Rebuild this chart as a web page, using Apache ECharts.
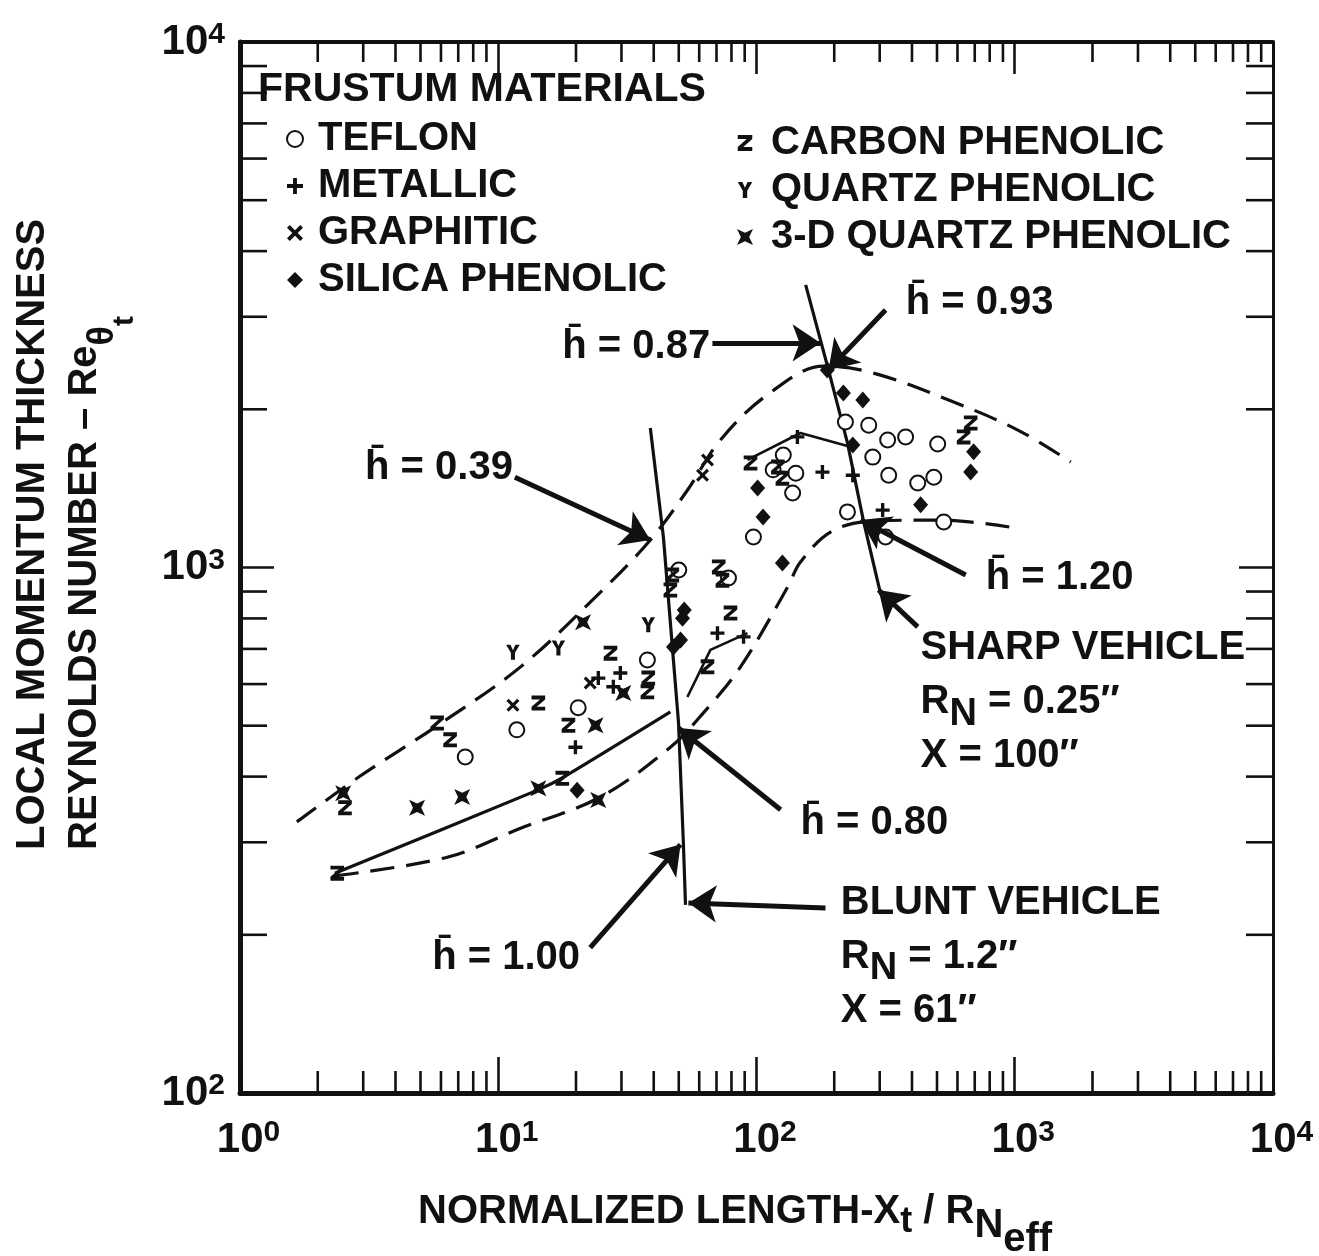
<!DOCTYPE html>
<html>
<head>
<meta charset="utf-8">
<script src="https://cdn.jsdelivr.net/npm/echarts@6/dist/echarts.min.js"></script>
<style>
html,body{margin:0;padding:0;background:#fff;}
#chart{width:1319px;height:1256px;}
</style>
</head>
<body>
<div id="chart"></div>
<script>
// ---------- data ----------
const xMinorTicks = [2,3,4,5,6,7,8,9,20,30,40,50,60,70,80,90,200,300,400,500,600,700,800,900,2000,3000,4000,5000,6000,7000,8000,9000];
const yMinorTicks = [200,300,400,500,600,700,800,900,2000,3000,4000,5000,6000,7000,8000,9000];

const teflon = [[37.8,667],[50,989],[77.9,955],[116,1534],[127,1637],[142,1512],[138,1386],[97.3,1143],[221,1892],[272,1866],[322,1749],[378,1772],[503,1718],[282,1622],[325,1498],[421,1448],[486,1485],[225,1276],[531,1221],[316,1143],[11.8,491],[7.45,436],[20.4,541]];
const metallic = [[24.4,616],[29.7,630],[27.9,593],[19.9,455],[70.6,750],[89.1,738],[180,1519],[236,1498],[308,1286],[144,1772]];
const graphitic = [[22.7,603],[11.4,547],[64.6,1602],[61.8,1498]];
const silicaPhenolic = [[20.2,377],[52.5,830],[51.7,801],[50.8,728],[47.7,706],[101,1417],[106,1248],[126,1020],[217,2148],[258,2084],[236,1710],[188,2377],[432,1316],[675,1519],[693,1660]];
const carbonPhenolic = [[2.55,349],[5.80,506],[6.51,470],[14.3,552],[18.7,501],[17.7,397],[27.2,687],[38.1,616],[37.8,580],[47.2,968],[46.4,906],[71.4,1002],[73.8,946],[79.3,819],[64.6,647],[94.8,1581],[121,1553],[126,1479],[634,1772],[675,1884],[2.38,262]];
const quartzPhenolic = [[11.4,690],[17.1,703],[38.1,778]];
const quartz3D = [[21.3,787],[30.5,577],[23.8,501],[4.85,349],[7.25,366],[14.3,380],[24.4,361],[2.51,372]];

const upperEnvelope = [[1.66,328],[2.92,401],[5.70,497],[12.2,647],[24.9,898],[38.8,1128],[54.0,1403],[72.5,1749],[110,2130],[182,2417],[284,2344],[580,2065],[1028,1826],[1648,1588]];
const lowerEnvelope = [[2.33,259],[6.35,281],[12.2,319],[24.9,366],[46.4,455],[62.3,529],[86.7,647],[132,918],[148,1024],[194,1169],[277,1225],[517,1231],[1009,1189]];
const bluntSolid = [[2.33,262],[14.2,377],[17.9,399],[46.4,531]];
const bluntVertical = [[38.8,1843],[43.6,1143],[49.9,506],[52.1,299],[53.1,228]];
const sharpVertical = [[155,3450],[190,2377],[225,1726],[260,1221],[303,887]];
const linkUpper = [[92.3,1602],[148,1803],[225,1703]];
const linkLower = [[54.0,567],[66.3,697],[92.3,750]];

const arrowFrom = [[11.6,1485],[67.5,2675],[316,3090],[646,968],[421,771],[124,346],[185,225],[22.7,189]];
const arrowTo   = [[38.8,1128],[177,2675],[190,2377],[253,1231],[297,906],[49.9,495],[54.5,230],[50.8,297]];

const labelTexts = [
  'h\u0304 = 0.39',
  'h\u0304 = 0.87',
  'h\u0304 = 0.93',
  'h\u0304 = 1.20',
  'SHARP VEHICLE\nR{s|N} = 0.25\u2033\nX = 100\u2033',
  'h\u0304 = 0.80',
  'BLUNT VEHICLE\nR{s|N} = 1.2\u2033\nX = 61\u2033',
  'h\u0304 = 1.00'
];
const labelAnchors = [[3.05,1546],[17.7,2628],[378,3188],[772,955],[432,554],[148,326],[212,181.5],[5.55,181]];

// ---------- styling ----------
const FONT = '"Liberation Sans", Arial, Helvetica, sans-serif';
const INK = '#111';
const SYM_PLUS = 'path://M3.8,0 L6.2,0 L6.2,3.8 L10,3.8 L10,6.2 L6.2,6.2 L6.2,10 L3.8,10 L3.8,6.2 L0,6.2 L0,3.8 L3.8,3.8 Z';
const SYM_CROSS = 'path://M1.7,0 L5,3.3 L8.3,0 L10,1.7 L6.7,5 L10,8.3 L8.3,10 L5,6.7 L1.7,10 L0,8.3 L3.3,5 L0,1.7 Z';
const SYM_Z = 'path://M0,0 L10,0 L10,2.8 L3.8,8.2 L10,8.2 L10,11 L0,11 L0,8.2 L6.2,2.8 L0,2.8 Z';
const SYM_Y = 'path://M0,0 L3.2,0 L5,4 L6.8,0 L10,0 L6.5,6 L6.5,11 L3.5,11 L3.5,6 Z';
const SYM_STAR4 = 'path://M0,0 L5,2.4 L10,0 L7.6,5 L10,10 L5,7.6 L0,10 L2.4,5 Z';

function scatter(name, data, symbol, size, extra) {
  return Object.assign({
    type: 'scatter', name: name, data: data, symbol: symbol, symbolSize: size,
    symbolKeepAspect: true, silent: true, z: 5,
    itemStyle: { color: INK, opacity: 1 }
  }, extra || {});
}
function curve(data, dashed, width, smooth) {
  return {
    type: 'line', data: data, showSymbol: false, symbol: 'none', smooth: smooth, silent: true,
    lineStyle: { color: INK, width: width, type: dashed ? [24, 12] : 'solid' }, z: 3
  };
}
const tickStyle = { stroke: INK, lineWidth: 2.6 };

const expLabel = function (v) { return '{b|10}{e|' + Math.round(Math.log10(v)) + '}'; };
function axisLabelRich(padLeft) {
  return {
    b: { fontSize: 42, fontWeight: 'bold', fontFamily: FONT, color: INK, lineHeight: 44, padding: [0, 0, 0, padLeft] },
    e: { fontSize: 30, fontWeight: 'bold', fontFamily: FONT, color: INK, lineHeight: 14, verticalAlign: 'top' }
  };
}

const legendText = { fontSize: 40, fontWeight: 'bold', fontFamily: FONT, color: INK, lineHeight: 38 };
const bold = function (size) { return { fontSize: size, fontWeight: 'bold', fontFamily: FONT, fill: INK }; };

const option = {
  animation: false,
  backgroundColor: '#ffffff',
  title: {
    text: 'FRUSTUM MATERIALS', left: 253, top: 65, padding: 5,
    textStyle: { fontSize: 41, fontWeight: 'bold', fontFamily: FONT, color: INK, lineHeight: 40 }
  },
  legend: [
    {
      data: ['TEFLON', 'METALLIC', 'GRAPHITIC', 'SILICA PHENOLIC'],
      orient: 'vertical', left: 286, top: 119, padding: 0, itemGap: 7,
      itemWidth: 16, itemHeight: 16, selectedMode: false,
      textStyle: Object.assign({ padding: [0, 0, 0, 10] }, legendText)
    },
    {
      data: ['CARBON PHENOLIC', 'QUARTZ PHENOLIC', '3-D QUARTZ PHENOLIC'],
      orient: 'vertical', left: 737, top: 123, padding: 0, itemGap: 7,
      itemWidth: 16, itemHeight: 16, selectedMode: false,
      textStyle: Object.assign({ padding: [0, 0, 0, 13] }, legendText)
    }
  ],
  grid: { left: 240, right: 46, top: 42, bottom: 163, containLabel: false, outerBoundsMode: 'none' },
  xAxis: [
    {
      type: 'log', logBase: 10, min: 1, max: 10000, position: 'bottom',
      axisLine: { lineStyle: { color: INK, width: 5 } },
      axisTick: { inside: true, length: 36, lineStyle: { color: INK, width: 2.6 } },
      axisLabel: { margin: 25, showMinLabel: true, showMaxLabel: true, formatter: expLabel, rich: axisLabelRich(17) },
      splitLine: { show: false }
    },
    {
      type: 'log', logBase: 10, min: 1, max: 10000, position: 'top',
      axisLine: { lineStyle: { color: INK, width: 4 } },
      axisTick: { inside: true, length: 32, lineStyle: { color: INK, width: 2.6 } },
      axisLabel: { show: false }, splitLine: { show: false }
    }
  ],
  yAxis: [
    {
      type: 'log', logBase: 10, min: 100, max: 10000, position: 'left',
      axisLine: { lineStyle: { color: INK, width: 5 } },
      axisTick: { inside: true, length: 34, lineStyle: { color: INK, width: 2.6 } },
      axisLabel: { margin: 15, showMinLabel: true, showMaxLabel: true, formatter: expLabel, rich: axisLabelRich(0) },
      splitLine: { show: false }
    },
    {
      type: 'log', logBase: 10, min: 100, max: 10000, position: 'right',
      axisLine: { lineStyle: { color: INK, width: 3 } },
      axisTick: { inside: true, length: 34, lineStyle: { color: INK, width: 2.6 } },
      axisLabel: { show: false }, splitLine: { show: false }
    }
  ],
  graphic: [
    {
      type: 'text', x: 33, y: 850, rotation: Math.PI / 2,
      style: Object.assign({ text: 'LOCAL MOMENTUM THICKNESS', align: 'left', verticalAlign: 'middle' }, bold(40))
    },
    {
      type: 'text', x: 85, y: 850, rotation: Math.PI / 2,
      style: {
        text: '{a|REYNOLDS NUMBER \u2013 Re}{b|\u03b8}{c|t}', align: 'left', verticalAlign: 'middle', fill: INK,
        rich: {
          a: Object.assign({ lineHeight: 110 }, bold(40)),
          b: Object.assign({ verticalAlign: 'bottom', padding: [0, 0, 19, 0] }, bold(36)),
          c: Object.assign({ verticalAlign: 'bottom', padding: [0, 0, 0, 0] }, bold(30))
        }
      }
    },
    {
      type: 'text', x: 418, y: 1212,
      style: {
        text: '{a|NORMALIZED LENGTH-X}{b|t}{a| / R}{c|N}{d|eff}', align: 'left', verticalAlign: 'middle', fill: INK,
        rich: {
          a: Object.assign({ lineHeight: 96 }, bold(40)),
          b: Object.assign({ verticalAlign: 'bottom', padding: [0, 0, 20, 0] }, bold(36)),
          c: Object.assign({ verticalAlign: 'bottom', padding: [0, 0, 14, 0] }, bold(40)),
          d: Object.assign({ verticalAlign: 'bottom', padding: [0, 0, 0, 0] }, bold(40))
        }
      }
    }
  ],
  series: [
    // minor ticks drawn through the axes' own scales
    {
      type: 'custom', silent: true, clip: false, z: 4,
      data: xMinorTicks.map(function (v) { return [v, 100]; }),
      encode: { x: 0, y: 1 },
      renderItem: function (params, api) {
        const v = api.value(0);
        const b = api.coord([v, 100]);
        const t = api.coord([v, 10000]);
        return { type: 'group', children: [
          { type: 'line', shape: { x1: b[0], y1: b[1], x2: b[0], y2: b[1] - 22 }, style: tickStyle },
          { type: 'line', shape: { x1: t[0], y1: t[1], x2: t[0], y2: t[1] + 20 }, style: tickStyle }
        ] };
      }
    },
    {
      type: 'custom', silent: true, clip: false, z: 4,
      data: yMinorTicks.map(function (v) { return [1, v]; }),
      encode: { x: 0, y: 1 },
      renderItem: function (params, api) {
        const v = api.value(1);
        const l = api.coord([1, v]);
        const r = api.coord([10000, v]);
        return { type: 'group', children: [
          { type: 'line', shape: { x1: l[0], y1: l[1], x2: l[0] + 27, y2: l[1] }, style: tickStyle },
          { type: 'line', shape: { x1: r[0], y1: r[1], x2: r[0] - 27, y2: r[1] }, style: tickStyle }
        ] };
      }
    },
    curve(upperEnvelope, true, 3.2, 0.35),
    curve(lowerEnvelope, true, 3.2, 0.35),
    curve(bluntSolid, false, 3.2, 0.2),
    curve(bluntVertical, false, 3.2, false),
    curve(sharpVertical, false, 3.2, false),
    curve(linkUpper, false, 2.6, false),
    curve(linkLower, false, 2.6, false),
    scatter('TEFLON', teflon, 'emptyCircle', 15, { itemStyle: { color: INK, borderColor: INK, borderWidth: 3, opacity: 1 } }),
    scatter('METALLIC', metallic, SYM_PLUS, 14),
    scatter('GRAPHITIC', graphitic, SYM_CROSS, 13),
    scatter('SILICA PHENOLIC', silicaPhenolic, 'diamond', [15, 17]),
    scatter('CARBON PHENOLIC', carbonPhenolic, SYM_Z, 15),
    scatter('QUARTZ PHENOLIC', quartzPhenolic, SYM_Y, 15),
    scatter('3-D QUARTZ PHENOLIC', quartz3D, SYM_STAR4, 16),
    {
      type: 'lines', coordinateSystem: 'cartesian2d', silent: true, z: 6,
      symbol: ['none', 'arrow'], symbolSize: 28,
      lineStyle: { color: INK, width: 5, opacity: 1, curveness: 0 },
      data: arrowFrom.map(function (p, i) { return { coords: [p, arrowTo[i]] }; })
    },
    // annotation texts, placed through the axes' scales
    {
      type: 'custom', silent: true, clip: false, z: 7,
      data: labelAnchors.map(function (p, i) { return [p[0], p[1], i]; }),
      encode: { x: 0, y: 1 },
      renderItem: function (params, api) {
        const pt = api.coord([api.value(0), api.value(1)]);
        const idx = api.value(2);
        return {
          type: 'text', x: pt[0], y: pt[1],
          style: Object.assign({
            text: labelTexts[idx], align: 'left', verticalAlign: 'middle', lineHeight: 46,
            rich: { s: Object.assign({ lineHeight: 62, verticalAlign: 'bottom' }, bold(38)) }
          }, bold(40))
        };
      }
    }
  ]
};

const chart = echarts.init(document.getElementById('chart'), null, { renderer: 'canvas' });
chart.setOption(option);
</script>
</body>
</html>
